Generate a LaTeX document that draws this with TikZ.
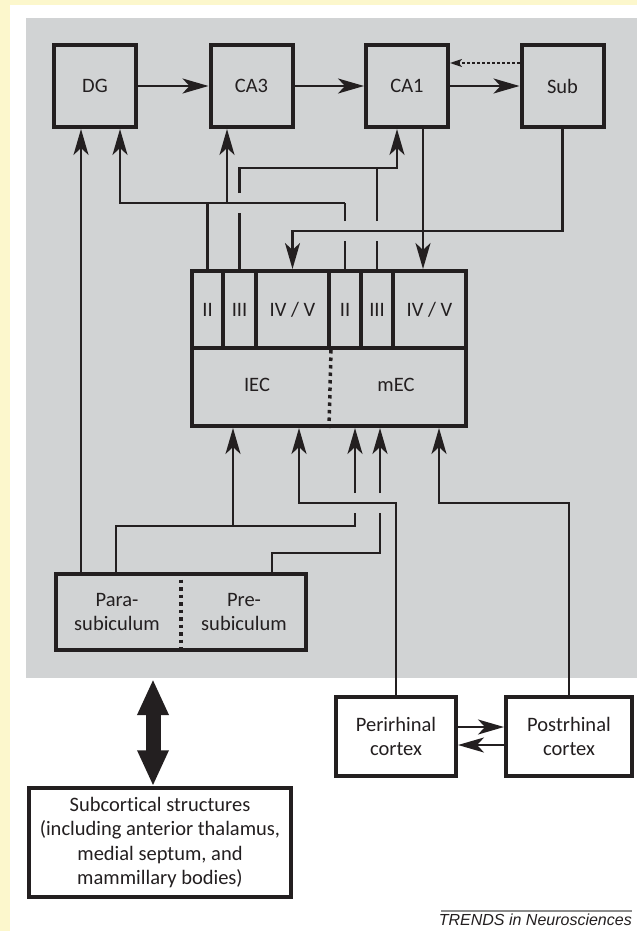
\documentclass[tikz,border=0pt]{standalone}
\usepackage{fontspec}
\setmainfont[Ligatures=NoCommon]{Carlito}
\newfontfamily\trendsfont{Liberation Sans}
\usetikzlibrary{arrows.meta,calc}
\definecolor{ink}{RGB}{35,31,32}
\definecolor{bgyellow}{RGB}{252,247,204}
\definecolor{bggray}{RGB}{209,211,212}
\definecolor{rulegray}{RGB}{140,140,140}
\tikzset{
  box/.style={draw=ink, line width=4pt, inner sep=0pt, align=center, text=ink,
    font=\fontsize{20.5}{24.5}\selectfont},
  lbl/.style={inner sep=0pt, align=center, text=ink, font=\fontsize{20.5}{24.5}\selectfont},
  conn/.style={draw=ink, line width=2.2pt},
  arr/.style={conn, -{Stealth[length=26pt,width=15pt,inset=7pt]}},
  darr/.style={draw=ink, line width=1.6pt, dash pattern=on 3pt off 2pt,
    -{Stealth[length=12pt,width=8pt,inset=3pt]}},
  dotline/.style={draw=ink, line width=3.5pt, dash pattern=on 3.5pt off 4pt},
  bigarr/.style={draw=ink, line width=15pt,
    {Triangle[width=29pt,length=36pt]}-{Triangle[width=29pt,length=36pt]}},
}
\begin{document}
\begin{tikzpicture}[x=1pt,y=-1pt]
\useasboundingbox (0,0) rectangle (637,931);
\fill[bgyellow] (0,0) rectangle (637,931);
\fill[white] (10,5) rectangle (637,931);
\fill[bggray] (26,18) rectangle (637,678);

% top row
\node[box, minimum width=82pt, minimum height=82pt] (DG)  at (95,86)    {DG};
\node[box, minimum width=82pt, minimum height=82pt] (CA3) at (251.5,86) {CA3};
\node[box, minimum width=82pt, minimum height=82pt] (CA1) at (407,86)   {CA1};
\node[box, minimum width=82pt, minimum height=82pt] (Sub) at (562.5,86) {Sub};

% entorhinal cortex
\node[box, minimum width=274pt, minimum height=78pt] (ECb) at (329,387) {};
\node[box, minimum width=31pt, minimum height=77pt] (lII)  at (207.5,309.5) {II};
\node[box, minimum width=33pt, minimum height=77pt] (lIII) at (239.5,309.5) {III};
\node[box, minimum width=73pt, minimum height=77pt] (lIV)  at (292.5,309.5) {IV / V};
\node[box, minimum width=32pt, minimum height=77pt] (mII)  at (345,309.5)   {II};
\node[box, minimum width=32pt, minimum height=77pt] (mIII) at (377,309.5)   {III};
\node[box, minimum width=73pt, minimum height=77pt] (mIV)  at (429.5,309.5) {IV / V};
\node[lbl] (lEC) at (257,385) {IEC};
\node[lbl] (mEC) at (396,385) {mEC};
\draw[dotline] (lIV.south east) -- (ECb.south);

% para/presubiculum
\node[box, minimum width=250pt, minimum height=76pt] (PP) at (181,612) {};
\node[lbl] (para) at (117,612) {Para-\\subiculum};
\node[lbl] (pre)  at (244,612) {Pre-\\subiculum};
\draw[dotline] (PP.north) -- (PP.south);

% cortices
\node[box, minimum width=120pt, minimum height=79pt] (Peri) at (396,736.5) {Perirhinal\\cortex};
\node[box, minimum width=126pt, minimum height=79pt] (Post) at (569,736.5) {Postrhinal\\cortex};
\node[box, line width=3.5pt, minimum width=262pt, minimum height=109pt] (Subc) at (160,842.5)
  {Subcortical structures\\(including anterior thalamus,\\medial septum, and\\mammillary bodies)};

% helper coordinates
\coordinate (yA) at (0,168);
\coordinate (yB) at (0,203);
\coordinate (yC) at (0,231);
\coordinate (yD) at (0,503);
\coordinate (yE) at (0,526);
\coordinate (yF) at (0,553);
\coordinate (dgA) at ($(DG.south)+(-14,0)$);
\coordinate (dgB) at ($(DG.south)+(25,0)$);
\coordinate (ca3in) at ($(CA3.south)+(-24.5,0)$);
\coordinate (ca1in) at ($(CA1.south)+(-10,0)$);
\coordinate (ca1out) at ($(CA1.south)+(16,0)$);
\coordinate (ecA) at ($(ECb.south)+(-96,0)$);
\coordinate (ecB) at ($(ECb.south)+(-30,0)$);
\coordinate (ecC) at ($(ECb.south)+(26,0)$);
\coordinate (ecD) at ($(ECb.south)+(51,0)$);
\coordinate (ecE) at ($(ECb.south)+(110,0)$);
\coordinate (ppA) at ($(PP.north)+(-100,0)$);
\coordinate (ppB) at ($(PP.north)+(-65,0)$);
\coordinate (ppC) at ($(PP.north)+(91,0)$);
\coordinate (m2c) at (mII.north |- yC);
\coordinate (l3b) at (lIII.north |- yB);
\coordinate (m3c) at (mIII.north |- yC);
\coordinate (c3) at (ecC |- yD);
\coordinate (d3) at (ecD |- yD);

% trisynaptic loop
\draw[arr] (DG.east) -- (CA3.west);
\draw[arr] (CA3.east) -- (CA1.west);
\draw[arr] (CA1.east) -- (Sub.west);
\draw[darr] ($(Sub.west)+(0,-23)$) -- ($(CA1.east)+(0,-23)$);

% layer II
\draw[conn] (lII.north) |- (mII.north |- yB);
\draw[arr] (lII.north |- yB) -| (dgB);
\draw[arr] (ca3in |- yB) -- (ca3in);
\draw[conn] (mII.north) -- ($(m2c)+(0,10)$);
\draw[conn] ($(m2c)+(0,-10)$) -- (mII.north |- yB);

% layer III
\draw[conn] (lIII.north) -- ($(l3b)+(0,10)$);
\draw[arr] ($(l3b)+(0,-10)$) |- (yA -| ca1in) -- (ca1in);
\draw[conn] (mIII.north) -- ($(m3c)+(0,10)$);
\draw[conn] ($(m3c)+(0,-10)$) -- (mIII.north |- yA);

% back projections
\draw[arr] (ca1out) -- (ca1out |- mIV.north);
\draw[arr] (Sub.south) |- (yC -| lIV.north) -- (lIV.north);

% inputs to EC
\draw[arr] (Peri.north) |- (yD -| ecB) -- (ecB);
\draw[arr] (Post.north) |- (yD -| ecE) -- (ecE);
\draw[arr] (ppA) -- (dgA);
\draw[conn] (ppB) |- (yE -| ecC) -- ($(c3)+(0,10)$);
\draw[arr] ($(c3)+(0,-10)$) -- (ecC);
\draw[arr] (ecA |- yE) -- (ecA);
\draw[conn] (ppC) |- (yF -| ecD) -- ($(d3)+(0,10)$);
\draw[arr] ($(d3)+(0,-10)$) -- (ecD);

% cortex reciprocal
\draw[arr] ($(Peri.east)+(0,-9.5)$) -- ($(Post.west)+(0,-9.5)$);
\draw[arr] ($(Post.west)+(0,8.5)$) -- ($(Peri.east)+(0,8.5)$);

% subcortical
\coordinate (bi) at (153,679);
\draw[bigarr] (bi) -- (bi |- Subc.north);

% credit
\coordinate (ruleL) at (441,911);
\coordinate (ruleR) at (632,911);
\draw[rulegray, line width=1.2pt] (ruleL) -- (ruleR);
\node[anchor=base east, inner sep=0pt, text=ink, font=\trendsfont\itshape\fontsize{16}{19}\selectfont] (trends) at (632,925) {TRENDS in Neurosciences};
\end{tikzpicture}
\end{document}
